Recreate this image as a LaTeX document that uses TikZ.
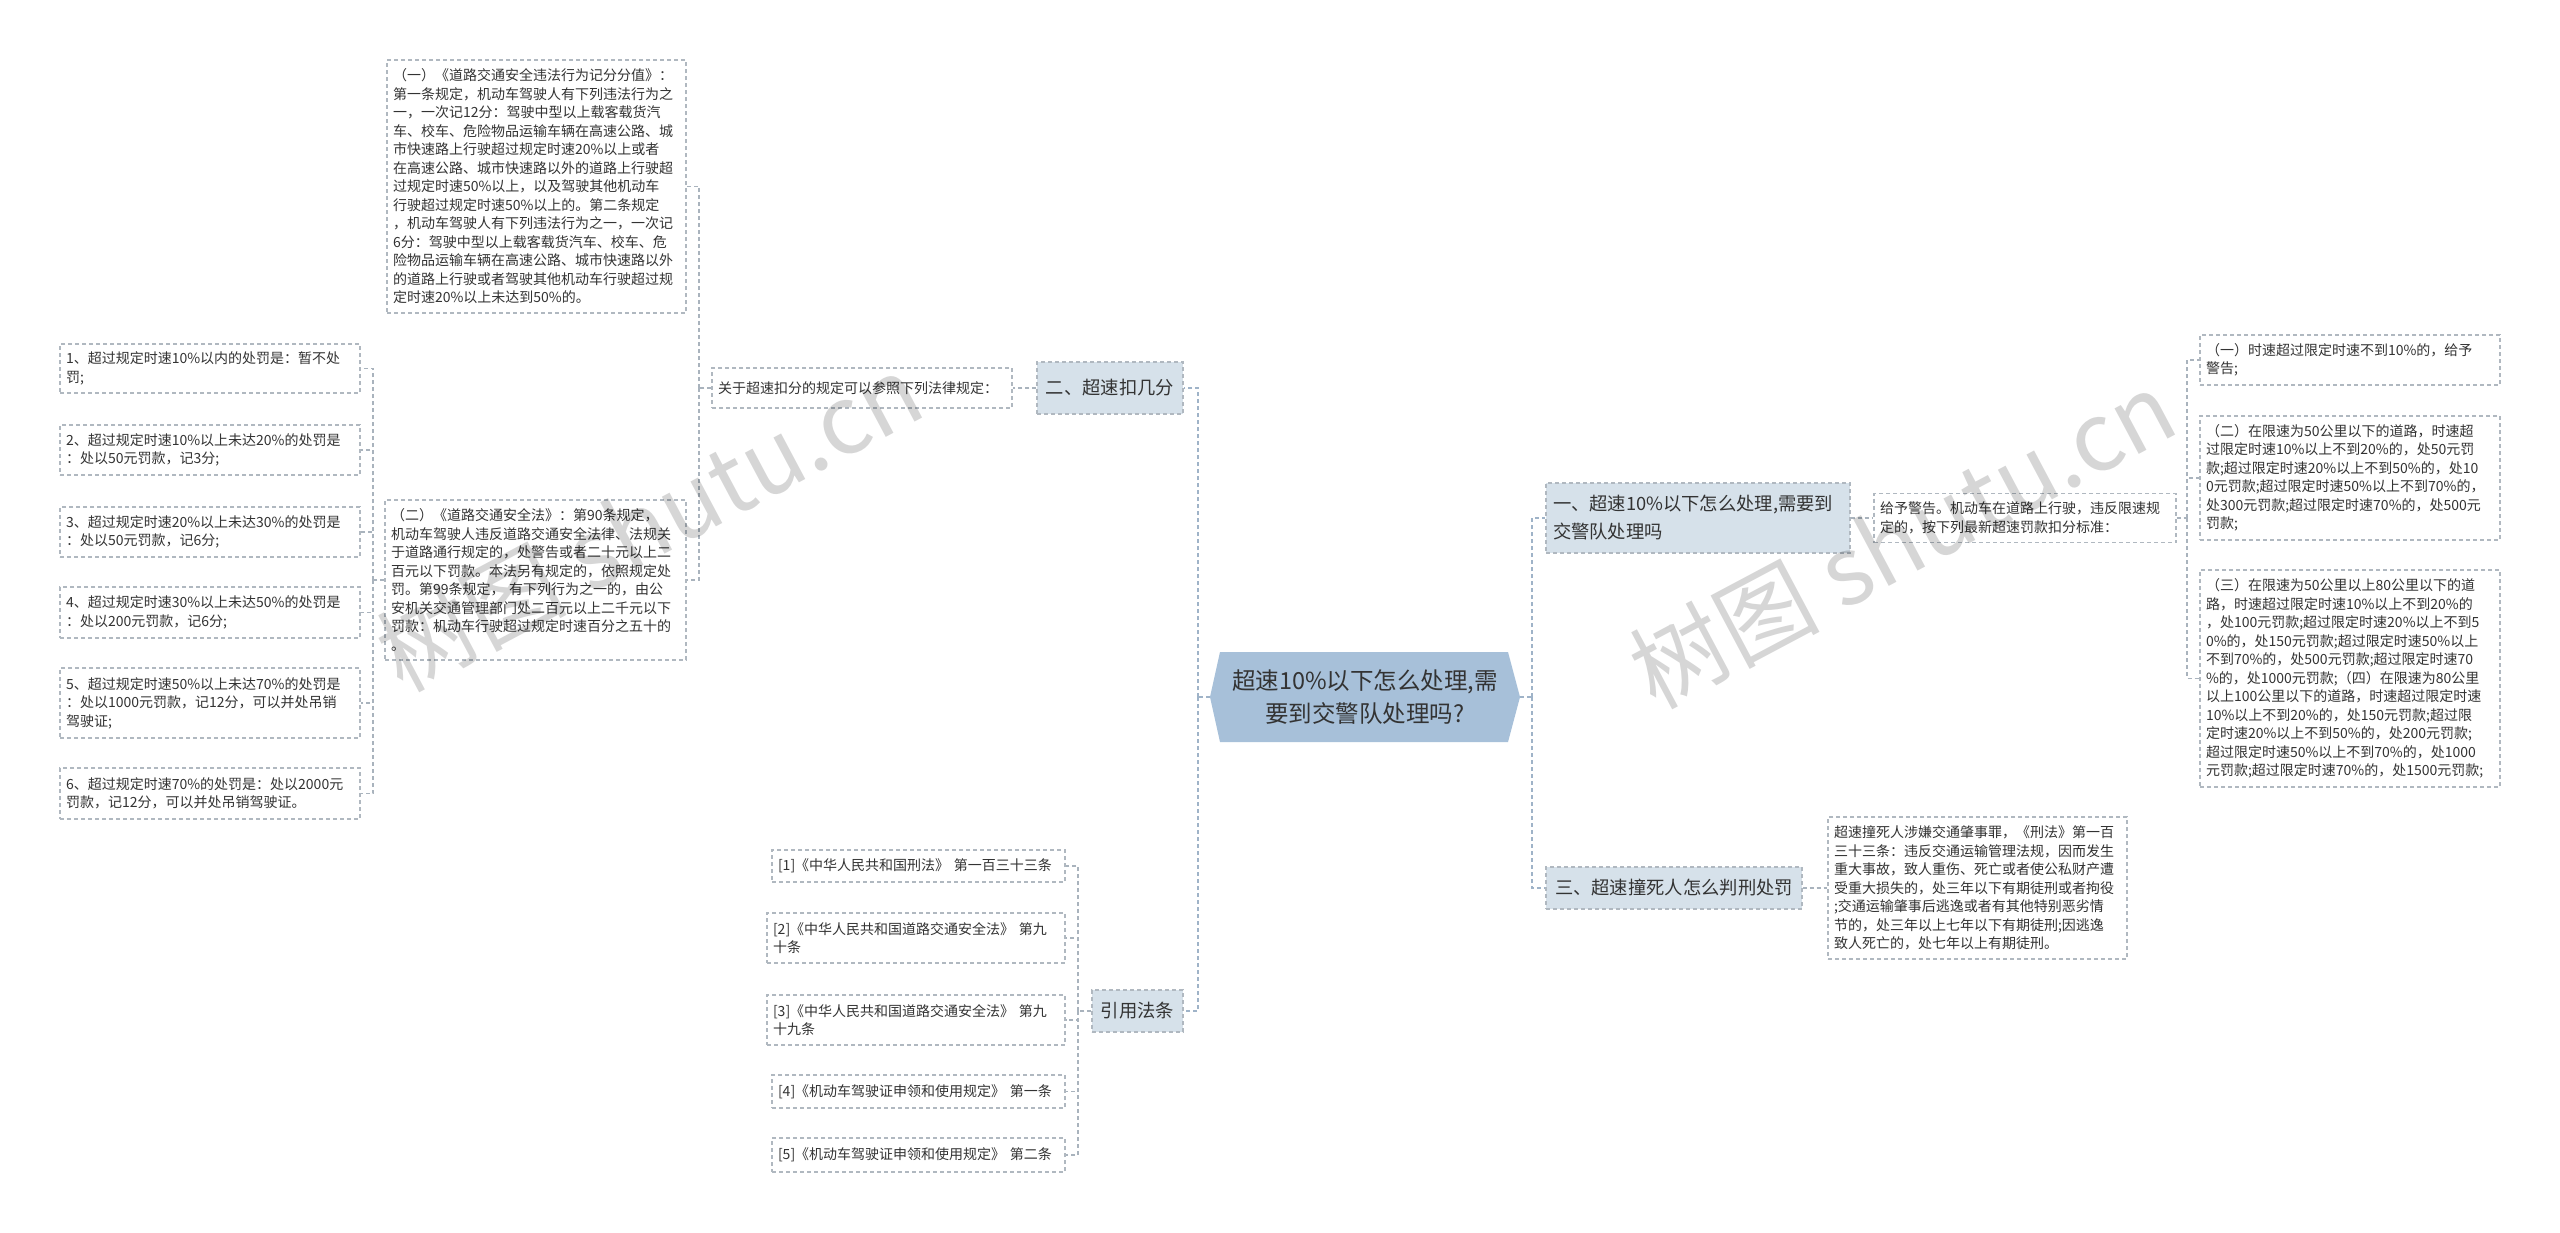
\documentclass[tikz,border=0pt]{standalone}
\usepackage{fontspec}
\setmainfont{Noto Sans CJK SC}
\definecolor{txt}{HTML}{333333}
\definecolor{bord}{HTML}{B0B8C0}
\definecolor{conn}{HTML}{A9B3BD}
\definecolor{mainc}{HTML}{9FB3C8}
\definecolor{bfill}{HTML}{D6E1EA}
\definecolor{rfill}{HTML}{A7C0D9}
\tikzset{
  leaf/.style={draw=bord, dash pattern=on 4pt off 3pt, line width=1.1pt, fill=white, text=txt,
    font=\fontsize{14}{18.5}\selectfont, align=left, inner xsep=6pt, inner ysep=0pt},
  branch/.style={draw=bord, dash pattern=on 4pt off 3pt, line width=1.1pt, fill=bfill, text=txt,
    font=\fontsize{18.3}{28}\selectfont, align=left, inner xsep=7pt, inner ysep=0pt},
  thinc/.style={draw=conn, line width=1.1pt, dash pattern=on 4pt off 3pt},
  thickc/.style={draw=mainc, line width=2pt, dash pattern=on 4pt off 3pt},
  wmark/.style={font=\fontsize{95}{95}\selectfont, text=black, opacity=0.16, rotate=28}
}
\begin{document}
\begin{tikzpicture}[x=1pt,y=-1pt]
\useasboundingbox (0,0) rectangle (2560,1232);
\fill[white] (0,0) rectangle (2560,1232);

% ---------- root ----------
\fill[rfill] (1210,697) -- (1220,652) -- (1508,652) -- (1520,697) -- (1508,742) -- (1220,742) -- cycle;
\node[minimum width=310pt, minimum height=90pt, inner sep=0pt, align=center, text=txt,
  font=\fontsize{23.5}{33}\selectfont] (root) at (1365,697) {超速10\%以下怎么处理,需\\要到交警队处理吗?};

% ---------- left branches ----------
\node[branch, minimum width=146pt, minimum height=52pt, align=center] (b2) at (1110,388) {二、超速扣几分};
\node[branch, minimum width=91pt, minimum height=42pt, align=center] (cite) at (1137.5,1011) {引用法条};

\node[leaf, minimum width=300pt, minimum height=40pt, text width=288pt] (guanyu) at (862,388) {关于超速扣分的规定可以参照下列法律规定：};

\node[leaf, minimum width=299pt, minimum height=253pt, text width=287pt] (t1) at (536.5,186.5) {（一）《道路交通安全违法行为记分分值》：\\第一条规定，机动车驾驶人有下列违法行为之\\一，一次记12分：驾驶中型以上载客载货汽\\车、校车、危险物品运输车辆在高速公路、城\\市快速路上行驶超过规定时速20\%以上或者\\在高速公路、城市快速路以外的道路上行驶超\\过规定时速50\%以上，以及驾驶其他机动车\\行驶超过规定时速50\%以上的。第二条规定\\，机动车驾驶人有下列违法行为之一，一次记\\6分：驾驶中型以上载客载货汽车、校车、危\\险物品运输车辆在高速公路、城市快速路以外\\的道路上行驶或者驾驶其他机动车行驶超过规\\定时速20\%以上未达到50\%的。};

\node[leaf, minimum width=301pt, minimum height=160pt, text width=289pt] (t2) at (535.5,580) {（二）《道路交通安全法》：第90条规定，\\机动车驾驶人违反道路交通安全法律、法规关\\于道路通行规定的，处警告或者二十元以上二\\百元以下罚款。本法另有规定的，依照规定处\\罚。第99条规定， 有下列行为之一的，由公\\安机关交通管理部门处二百元以上二千元以下\\罚款：机动车行驶超过规定时速百分之五十的\\。};

\node[leaf, minimum width=300pt, minimum height=49pt, text width=288pt] (l1) at (210,368.5) {1、超过规定时速10\%以内的处罚是：暂不处\\罚;};
\node[leaf, minimum width=300pt, minimum height=50pt, text width=288pt] (l2) at (210,450) {2、超过规定时速10\%以上未达20\%的处罚是\\：处以50元罚款，记3分;};
\node[leaf, minimum width=300pt, minimum height=50pt, text width=288pt] (l3) at (210,532) {3、超过规定时速20\%以上未达30\%的处罚是\\：处以50元罚款，记6分;};
\node[leaf, minimum width=300pt, minimum height=51pt, text width=288pt] (l4) at (210,612.5) {4、超过规定时速30\%以上未达50\%的处罚是\\：处以200元罚款，记6分;};
\node[leaf, minimum width=300pt, minimum height=70pt, text width=288pt] (l5) at (210,703) {5、超过规定时速50\%以上未达70\%的处罚是\\：处以1000元罚款，记12分，可以并处吊销\\驾驶证;};
\node[leaf, minimum width=300pt, minimum height=51pt, text width=288pt] (l6) at (210,793.5) {6、超过规定时速70\%的处罚是：处以2000元\\罚款，记12分，可以并处吊销驾驶证。};

\node[leaf, minimum width=293pt, minimum height=32pt, text width=281pt] (r1) at (918.5,866) {[1]《中华人民共和国刑法》 第一百三十三条};
\node[leaf, minimum width=298pt, minimum height=50pt, text width=286pt] (r2) at (916,938) {[2]《中华人民共和国道路交通安全法》 第九\\十条};
\node[leaf, minimum width=298pt, minimum height=50pt, text width=286pt] (r3) at (916,1020) {[3]《中华人民共和国道路交通安全法》 第九\\十九条};
\node[leaf, minimum width=293pt, minimum height=33pt, text width=281pt] (r4) at (918.5,1091.5) {[4]《机动车驾驶证申领和使用规定》 第一条};
\node[leaf, minimum width=293pt, minimum height=34pt, text width=281pt] (r5) at (918.5,1155) {[5]《机动车驾驶证申领和使用规定》 第二条};

% ---------- right branches ----------
\node[branch, minimum width=304pt, minimum height=70pt, text width=290pt] (b1) at (1698,518) {一、超速10\%以下怎么处理,需要到\\交警队处理吗};
\node[branch, minimum width=256pt, minimum height=42pt, align=center] (b3) at (1674,888) {三、超速撞死人怎么判刑处罚};

\node[leaf, minimum width=302pt, minimum height=49pt, text width=290pt] (g) at (2025,518) {给予警告。机动车在道路上行驶，违反限速规\\定的，按下列最新超速罚款扣分标准：};

\node[leaf, minimum width=300pt, minimum height=50pt, text width=288pt] (q1) at (2350,360) {（一）时速超过限定时速不到10\%的，给予\\警告;};
\node[leaf, minimum width=300pt, minimum height=124pt, text width=288pt] (q2) at (2350,478) {（二）在限速为50公里以下的道路，时速超\\过限定时速10\%以上不到20\%的，处50元罚\\款;超过限定时速20\%以上不到50\%的，处10\\0元罚款;超过限定时速50\%以上不到70\%的，\\处300元罚款;超过限定时速70\%的，处500元\\罚款;};
\node[leaf, minimum width=300pt, minimum height=217pt, text width=288pt] (q3) at (2350,678.5) {（三）在限速为50公里以上80公里以下的道\\路，时速超过限定时速10\%以上不到20\%的\\，处100元罚款;超过限定时速20\%以上不到5\\0\%的，处150元罚款;超过限定时速50\%以上\\不到70\%的，处500元罚款;超过限定时速70\\\%的，处1000元罚款;（四）在限速为80公里\\以上100公里以下的道路，时速超过限定时速\\10\%以上不到20\%的，处150元罚款;超过限\\定时速20\%以上不到50\%的，处200元罚款;\\超过限定时速50\%以上不到70\%的，处1000\\元罚款;超过限定时速70\%的，处1500元罚款;};

\node[leaf, minimum width=299pt, minimum height=142pt, text width=287pt] (s) at (1977.5,888) {超速撞死人涉嫌交通肇事罪，《刑法》第一百\\三十三条：违反交通运输管理法规，因而发生\\重大事故，致人重伤、死亡或者使公私财产遭\\受重大损失的，处三年以下有期徒刑或者拘役\\;交通运输肇事后逃逸或者有其他特别恶劣情\\节的，处三年以上七年以下有期徒刑;因逃逸\\致人死亡的，处七年以上有期徒刑。};

% ---------- junction coordinates ----------
\coordinate (jL) at (1198,697);
\coordinate (jR) at (1532,697);
\coordinate (j1) at (699,388);
\coordinate (j2) at (373,580);
\coordinate (j3) at (1078,1011);
\coordinate (j4) at (2187,518);

% ---------- connectors ----------
\draw[thickc] (root.west) -- (jL);
\draw[thickc] (jL) |- (b2.east);
\draw[thickc] (jL) |- (cite.east);
\draw[thickc] (root.east) -- (jR);
\draw[thickc] (jR) |- (b1.west);
\draw[thickc] (jR) |- (b3.west);

\draw[thinc] (b2.west) -- (guanyu.east);
\draw[thinc] (guanyu.west) -- (j1);
\draw[thinc] (j1) |- (t1.east);
\draw[thinc] (j1) |- (t2.east);
\draw[thinc] (t2.west) -- (j2);
\foreach \n in {l1,l2,l3,l4,l5,l6} \draw[thinc] (j2) |- (\n.east);
\draw[thinc] (cite.west) -- (j3);
\foreach \n in {r1,r2,r3,r4,r5} \draw[thinc] (j3) |- (\n.east);
\draw[thinc] (b1.east) -- (g.west);
\draw[thinc] (g.east) -- (j4);
\foreach \n in {q1,q2,q3} \draw[thinc] (j4) |- (\n.west);
\draw[thinc] (b3.east) -- (s.west);

% ---------- watermarks ----------
\node[wmark] (wm1) at (649,522) {树图 shutu.cn};
\node[wmark] (wm2) at (1902,539) {树图 shutu.cn};
\end{tikzpicture}
\end{document}
